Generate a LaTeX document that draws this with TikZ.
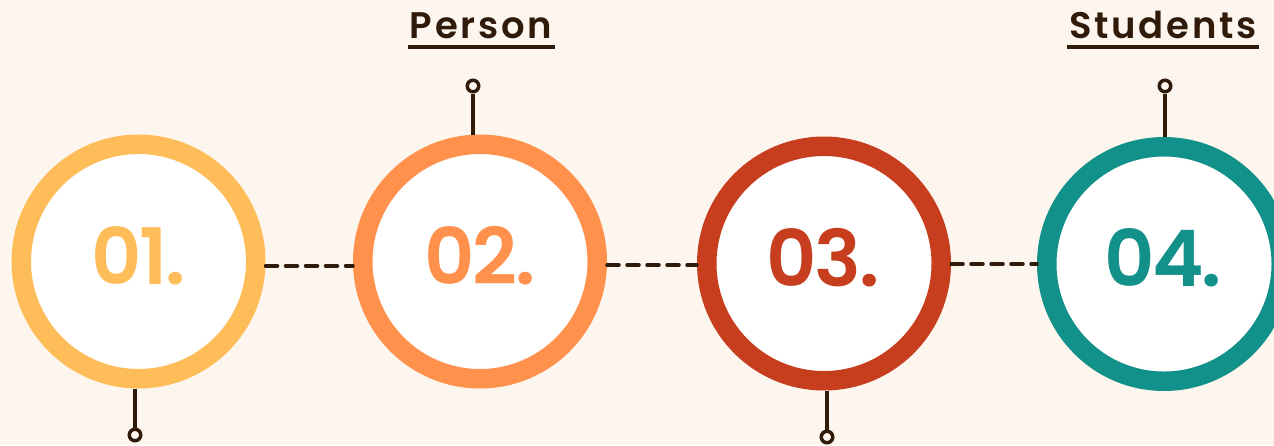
\documentclass[tikz,border=0pt]{standalone}
\usepackage{fontspec}
\newfontfamily\pop{Poppins SemiBold}[LetterSpace=-3]
\newfontfamily\poplab{Poppins SemiBold}[LetterSpace=7.5]
\definecolor{bgc}{HTML}{FDF6EF}
\definecolor{ink}{HTML}{301A0A}
\definecolor{cyel}{HTML}{FEBD59}
\definecolor{cora}{HTML}{FF914D}
\definecolor{cred}{HTML}{C73E1F}
\definecolor{ctea}{HTML}{12918A}
\tikzset{
  ring/.style={circle, draw=#1, fill=white, line width=19.5pt, minimum size=234.5pt, inner sep=0pt},
  numtxt/.style={text=#1, font=\pop\fontsize{78}{78}\selectfont, inner sep=0pt},
  pin/.style={circle, draw=ink, line width=3.5pt, minimum size=11.5pt, inner sep=0pt, fill=bgc},
  stem/.style={draw=ink, line width=3.5pt},
  dashline/.style={draw=ink, line width=3.5pt, line cap=round, dash pattern=on 12pt off 8pt},
  lab/.style={text=ink, font=\poplab\fontsize{37}{37}\selectfont, inner sep=0pt, anchor=base},
  uline/.style={draw=ink, line width=4pt}
}
\begin{document}
\begin{tikzpicture}[x=1pt,y=-1pt]
\fill[bgc] (0,0) rectangle (1274,445);
\useasboundingbox (0,0) rectangle (1274,445);
% rings
\node[ring=cyel] (c1) at (138.5,261.5) {};
\node[ring=cora] (c2) at (480,261.5) {};
\node[ring=cred] (c3) at (824,263.5) {};
\node[ring=ctea] (c4) at (1164,264) {};
% numbers
\node[numtxt=cyel] (n1) at (138.5,255.5) {01.};
\node[numtxt=cora] (n2) at (480,255.5) {02.};
\node[numtxt=cred] (n3) at (823,257.5) {03.};
\node[numtxt=ctea] (n4) at (1163,258) {04.};
% dashed connectors
\draw[dashline] ([yshift=-4.5]c1.east) -- ([yshift=-4.5]c2.west);
\draw[dashline] ([yshift=-3.5]c2.east) -- ([yshift=-1.5]c3.west);
\draw[dashline] ([yshift=-0.5]c3.east) -- ([yshift=0]c4.west);
% pins
\node[pin] (p1) at (135,435) {};
\node[pin] (p2) at (473,86) {};
\node[pin] (p3) at (827,437) {};
\node[pin] (p4) at (1165,86) {};
\draw[stem] (c1.south -| p1) -- (p1.north);
\draw[stem] (c2.north -| p2) -- (p2.south);
\draw[stem] (c3.south -| p3) -- (p3.north);
\draw[stem] (c4.north -| p4) -- (p4.south);
% labels
\node[lab] (l2) at (481,38) {Person};
\node[lab] (l4) at (1163,38) {Students};
\draw[uline] (408,47) -- (555,47);
\draw[uline] (1067,47) -- (1259,47);
\end{tikzpicture}
\end{document}
